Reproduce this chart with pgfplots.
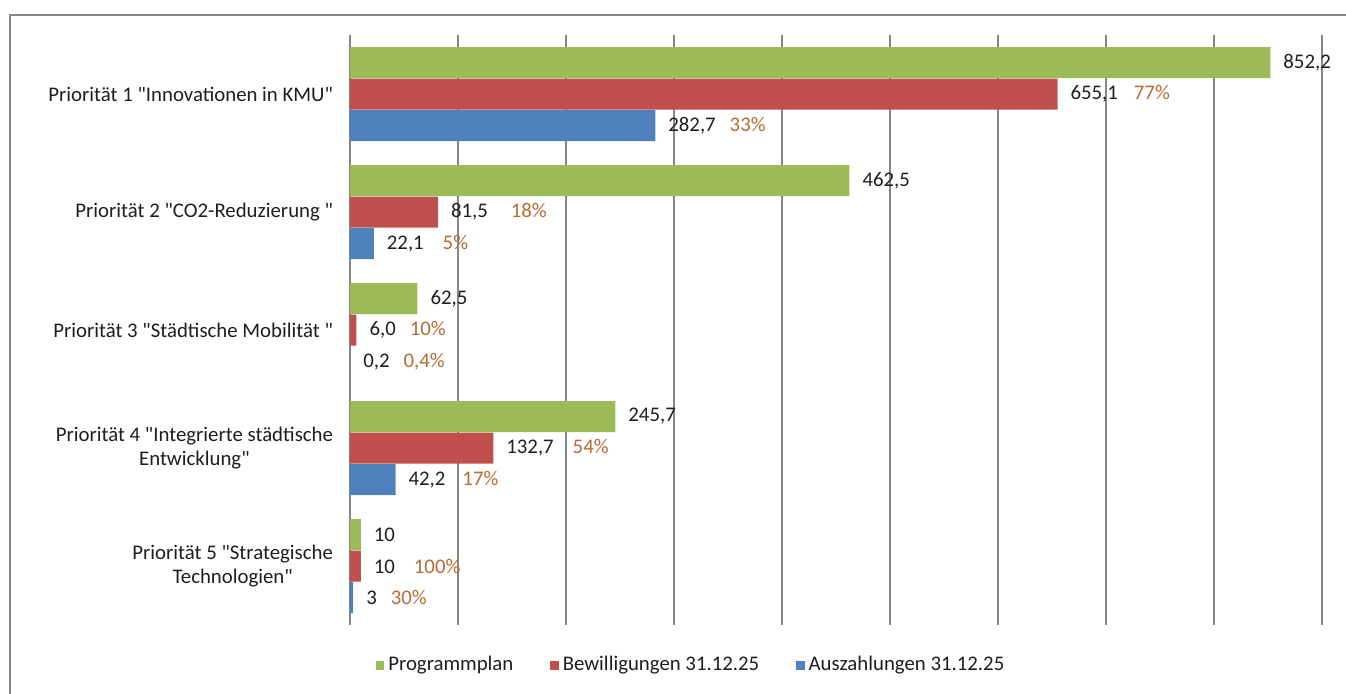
\documentclass[border=0pt]{standalone}
\usepackage{pgfplots}
\pgfplotsset{compat=1.18}
\usepackage{pgfplotstable}
\usepackage{fontspec}
\setmainfont{Carlito}[Ligatures=TeXOff]
\definecolor{cgreen}{RGB}{155,187,89}
\definecolor{cred}{RGB}{192,80,77}
\definecolor{cblue}{RGB}{79,129,189}
\definecolor{cgrid}{RGB}{134,134,134}
\definecolor{cpct}{RGB}{182,108,52}
\definecolor{ctext}{RGB}{30,30,30}
\newcommand{\pc}[1]{\textcolor{cpct}{#1}}
\pgfplotstableread[col sep=semicolon]{
pos;prog;bew;ausz;lprog;lbew;lausz
5;852.2;655.1;282.7;852,2;{655,1\hspace{8pt}\pc{77\%}};{282,7\hspace{7pt}\pc{33\%}}
4;462.5;81.5;22.1;462,5;{81,5\hspace{11.5pt}\pc{18\%}};{22,1\hspace{9.5pt}\pc{5\%}}
3;62.5;6.0;0.2;62,5;{6,0\hspace{7pt}\pc{10\%}};{0,2\hspace{7pt}\pc{0,4\%}}
2;245.7;132.7;42.2;245,7;{132,7\hspace{9.5pt}\pc{54\%}};{42,2\hspace{8.5pt}\pc{17\%}}
1;10;10;3;10;{10\hspace{9.5pt}\pc{100\%}};{3\hspace{7pt}\pc{30\%}}
}\data
\begin{document}
\begin{tikzpicture}[font=\fontsize{10.4}{12}\selectfont, text=ctext]
\useasboundingbox (0,0) rectangle (673pt,-346.5pt);
\draw[cgrid, line width=0.8pt] (5pt,-400pt) -- (5pt,-7.5pt) -- (720pt,-7.5pt);
\begin{axis}[
  at={(175pt,-312.5pt)}, anchor=south west,
  scale only axis, width=486pt, height=295pt,
  xmin=0, xmax=900, ymin=0.5, ymax=5.5,
  xtick={0,100,...,900}, xticklabels={,,,,,,,,,,},
  xmajorgrids, grid style={cgrid, line width=0.7pt},
  axis line style={draw=none},
  major tick length=0pt,
  ytick={1,2,3,4,5},
  yticklabels={{Priorität 5 "Strategische\\Technologien"},{Priorität 4 "Integrierte städtische\\Entwicklung"},{Priorität 3 "Städtische Mobilität "},{Priorität 2 "CO2-Reduzierung "},{Priorität 1 "Innovationen in KMU"}},
  yticklabel style={align=center, xshift=-5pt},
  xbar, bar width=15.5pt,
  point meta=explicit symbolic,
  nodes near coords,
  every node near coord/.append style={anchor=west, xshift=3pt, text=ctext},
  legend columns=3,
  legend style={at={(0.352,-0.068)}, anchor=center, draw=none, fill=none,
    /tikz/every even column/.append style={column sep=16.5pt},
    nodes={inner xsep=2pt}},
  legend image code/.code={\fill[#1,draw=none] (0pt,-2.3pt) rectangle (4.2pt,2.3pt);},
]
\addplot[fill=cgreen, draw=none, bar shift=15.75pt] table[x=prog, y=pos, meta=lprog] {\data};
\addplot[fill=cred, draw=none, bar shift=0pt] table[x=bew, y=pos, meta=lbew] {\data};
\addplot[fill=cblue, draw=none, bar shift=-15.75pt] table[x=ausz, y=pos, meta=lausz] {\data};
\legend{Programmplan, Bewilligungen 31.12.25, Auszahlungen 31.12.25}
\end{axis}
\end{tikzpicture}
\end{document}
